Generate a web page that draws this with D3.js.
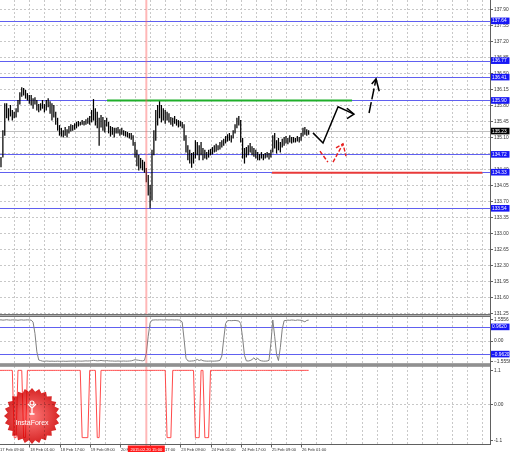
<!DOCTYPE html>
<html><head><meta charset="utf-8">
<script src="https://cdn.jsdelivr.net/npm/d3@7"></script>
<style>body{margin:0;background:#fff}svg{display:block}</style>
</head><body><svg id="c" width="510" height="452"></svg>
<script>
// ---------- DATA ----------
const highs = [
134.62,134.66,135.25,135.84,135.84,135.73,135.80,135.69,135.65,135.73,
135.91,136.08,136.19,136.17,136.13,136.06,136.02,136.02,135.95,135.97,
135.91,135.82,135.84,135.91,135.82,135.91,135.95,135.88,135.84,135.80,
135.65,135.52,135.36,135.30,135.25,135.32,135.27,135.34,135.38,135.36,
135.40,135.43,135.45,135.43,135.47,135.45,135.49,135.52,135.56,135.69,
135.93,135.73,135.65,135.52,135.58,135.54,135.47,135.52,135.43,135.34,
135.32,135.30,135.30,135.32,135.27,135.30,135.25,135.23,135.21,135.19,
135.19,135.14,134.99,134.82,134.71,134.64,134.60,134.56,134.42,134.27,
134.05,134.82,135.25,135.69,135.80,135.91,135.80,135.73,135.69,135.65,
135.62,135.54,135.52,135.56,135.49,135.47,135.45,135.43,135.38,135.14,
134.92,134.82,134.75,134.77,135.03,134.99,134.92,134.99,134.86,134.82,
134.77,134.82,134.84,134.88,134.92,134.95,134.92,134.99,135.03,135.06,
135.12,135.16,135.19,135.14,135.25,135.38,135.52,135.56,135.47,135.08,
134.86,134.88,134.92,134.97,134.90,134.86,134.82,134.77,134.73,134.77,
134.73,134.75,134.77,134.75,134.82,135.14,135.19,135.03,135.08,134.99,
135.06,135.10,135.12,135.08,135.14,135.10,135.10,135.08,135.12,135.10,
135.19,135.30,135.32,135.27,135.25];
const lows = [
134.42,134.45,134.66,135.14,135.52,135.47,135.56,135.47,135.52,135.54,
135.65,135.82,135.99,136.02,135.95,135.91,135.84,135.80,135.73,135.82,
135.69,135.65,135.69,135.73,135.65,135.69,135.76,135.62,135.47,135.54,
135.38,135.25,135.14,135.12,135.10,135.14,135.10,135.19,135.23,135.25,
135.27,135.30,135.34,135.36,135.38,135.36,135.38,135.40,135.38,135.43,
135.47,135.36,135.30,134.92,135.32,135.25,135.21,135.34,135.19,135.12,
135.16,135.10,135.19,135.19,135.14,135.16,135.14,135.12,135.10,135.08,
135.05,134.92,134.66,134.47,134.38,134.42,134.38,134.33,134.12,133.83,
133.55,133.72,134.71,135.03,135.36,135.52,135.43,135.47,135.40,135.47,
135.43,135.38,135.34,135.40,135.36,135.32,135.34,135.30,135.03,134.77,
134.60,134.53,134.44,134.53,134.64,134.71,134.60,134.71,134.60,134.64,
134.62,134.66,134.71,134.73,134.77,134.79,134.82,134.84,134.88,134.92,
134.97,135.01,135.03,134.99,135.08,135.19,135.30,135.36,134.99,134.64,
134.53,134.66,134.71,134.77,134.71,134.68,134.64,134.60,134.60,134.64,
134.60,134.64,134.66,134.62,134.66,134.77,134.86,134.75,134.82,134.77,
134.88,134.92,134.97,134.95,134.99,134.97,134.99,134.99,135.01,134.99,
135.03,135.12,135.16,135.14,135.16];
const lastPrice = 135.23;
const priceTicks = [137.90,137.55,137.20,136.85,136.50,136.15,135.80,135.45,135.10,134.75,
  134.40,134.05,133.70,133.35,133.00,132.65,132.30,131.95,131.60,131.25];
const levelPrices = [137.64,136.77,136.41,135.90,134.72,134.33,133.54];
const greenLevel = [135.90, 57.2, 187];   // price, from bar, to bar
const redLevel = [134.33, 144.6, 256];
const timeLabels = ["17 Feb 09:00","18 Feb 01:00","18 Feb 17:00","19 Feb 09:00","20 Feb 01:00",
  "20 Feb 17:00","23 Feb 09:00","24 Feb 01:00","24 Feb 17:00","25 Feb 09:00","26 Feb 01:00"];
const barsPerLabel = 16;
const markerBar = 78;
const markerLabel = "2015.02.20 15:00";
// forecast sketches (bar index, price)
const blackPath1 = [[166.3,135.19],[171.6,134.97],[179.6,135.76],[188,135.60]];
const blackHead1 = [[184.3,135.73],[188,135.60],[184.3,135.50]];
const blackPath2 = [[196,135.625],[199.7,136.37]];
const blackHead2 = [[197.4,136.26],[199.7,136.37],[201.4,136.10]];
const redPath1 = [[170,134.79],[174.2,134.55]];
const redPath2 = [[176.9,134.55],[182.2,134.95]];
const redHead = [[178.5,134.86],[182.2,134.95],[183.8,134.68]];
// indicator 1
const osc1 = [
1.45,1.46,1.44,1.45,1.47,1.45,1.44,1.46,1.45,1.45,1.43,1.45,1.46,1.44,1.45,1.46,1.45,1.44,
1.30,0.50,-0.80,-1.38,-1.42,
-1.46,-1.47,-1.45,-1.46,-1.47,-1.46,-1.47,-1.47,-1.46,-1.47,
-1.47,-1.46,-1.47,-1.47,-1.46,-1.46,-1.45,-1.46,-1.46,-1.45,
-1.46,-1.46,-1.45,-1.44,-1.45,-1.44,-1.42,-1.40,-1.42,-1.44,
-1.43,-1.41,-1.43,-1.44,-1.42,-1.44,-1.45,-1.45,-1.46,-1.46,
-1.45,-1.46,-1.46,-1.45,-1.46,-1.46,-1.45,-1.44,-1.40,-1.36,
-1.38,-1.40,-1.42,
-1.44,-1.40,-0.90,0.30,1.25,1.44,
1.45,1.46,1.45,1.46,1.46,1.45,1.46,1.46,1.45,1.46,1.46,1.45,1.46,1.45,1.44,
1.30,0.10,-1.25,-1.44,
-1.46,-1.45,-1.44,-1.40,-1.34,-1.42,-1.36,-1.43,-1.45,-1.46,-1.46,-1.45,-1.46,-1.46,-1.45,-1.44,-1.40,
-1.10,0.10,1.20,1.40,
1.41,1.40,1.41,1.42,1.40,1.38,
1.20,0.20,-1.05,-1.44,
-1.45,-1.42,-1.35,-1.22,-1.38,-1.25,-1.40,-1.44,-1.46,-1.46,-1.45,-1.40,
-0.20,1.45,0.30,-1.00,-1.42,-0.50,0.80,1.40,
1.42,1.44,1.43,1.45,1.44,1.42,1.45,1.44,1.43,1.38,1.32,1.42,1.44];
const osc1Ticks = [1.5556, 0, -1.5556];
const osc1Levels = [0.9620, -0.9620];
// indicator 2
const osc2 = [
1,1,1,1,1,1,1,1,-1,-1,1,1,1,-1,-1,1,1,1,1,1,
1,1,1,1,1,1,1,1,1,1,1,1,1,1,1,1,1,1,1,1,
1,1,1,1,-1,-1,-1,-1,1,1,1,1,-1,-1,1,1,1,1,1,1,
1,1,1,1,1,1,1,1,1,1,1,1,1,1,1,1,1,1,1,1,
1,1,1,1,1,1,1,1,1,-1,-1,-1,1,1,1,1,1,1,1,1,
1,1,1,1,-1,-1,-1,1,1,-1,-1,-1,1,1,1,1,1,1,1,1,
1,1,1,1,1,1,1,1,1,1,1,1,1,1,1,1,1,1,1,1,
1,1,1,1,1,1,1,1,1,1,1,1,1,1,1,1,1,1,1,1,
1,1,1,1,1];
const osc2Ticks = [1.1, 0, -1.1];

// ---------- LAYOUT ----------
const plotR = 490;
const svg = d3.select("#c");
const FONT = "Liberation Sans, Arial, sans-serif";
const x = d3.scaleLinear().domain([0, barsPerLabel]).range([-0.9, 29.3]);
const yM = d3.scaleLinear().domain([131.25, 137.90]).range([313, 9]);
const y1 = d3.scaleLinear().domain([-1.5556, 1.5556]).range([362.5, 318.5]);
const y2 = d3.scaleLinear().domain([-1.1, 1.1]).range([441, 367]);
const panels = [[0, 314], [317, 363.5], [366, 444]];

const defs = svg.append("defs");
panels.forEach((p, k) => defs.append("clipPath").attr("id", "cp" + k)
  .append("rect").attr("x", 0).attr("y", p[0]).attr("width", plotR).attr("height", p[1] - p[0]));

const line = (ys) => d3.line().x(d => x(d[0])).y(d => ys(d[1]));

// vertical grid (every half label)
const nBars = highs.length;
const gridBars = d3.range(0, 260, barsPerLabel / 2);
panels.forEach((p, k) => {
  svg.append("g").attr("clip-path", `url(#cp${k})`).selectAll("line").data(gridBars).join("line")
    .attr("x1", d => Math.round(x(d)) + 0.5).attr("x2", d => Math.round(x(d)) + 0.5)
    .attr("y1", p[0]).attr("y2", p[1])
    .attr("stroke", "#c8c8c8").attr("stroke-dasharray", "2,2").attr("stroke-width", 1);
});
// horizontal grid main
const gM = svg.append("g").attr("clip-path", "url(#cp0)");
gM.selectAll("line.hg").data(priceTicks).join("line").attr("class", "hg")
  .attr("x1", 0).attr("x2", plotR).attr("y1", d => Math.round(yM(d)) + 0.5).attr("y2", d => Math.round(yM(d)) + 0.5)
  .attr("stroke", "#c8c8c8").attr("stroke-dasharray", "2,2");
// zero grids in sub panels
[[y1, 0], [y2, 0]].forEach(([s, v]) => svg.append("line").attr("x1", 0).attr("x2", plotR)
  .attr("y1", Math.round(s(v)) + 0.5).attr("y2", Math.round(s(v)) + 0.5)
  .attr("stroke", "#c8c8c8").attr("stroke-dasharray", "2,2"));

// blue levels
gM.selectAll("line.lv").data(levelPrices).join("line").attr("class", "lv")
  .attr("x1", 0).attr("x2", plotR).attr("y1", d => Math.round(yM(d)) + 0.5).attr("y2", d => Math.round(yM(d)) + 0.5)
  .attr("stroke", "#6060f0").attr("stroke-width", 1);
// current price line
gM.append("line").attr("x1", 0).attr("x2", plotR)
  .attr("y1", Math.round(yM(lastPrice)) + 0.5).attr("y2", Math.round(yM(lastPrice)) + 0.5)
  .attr("stroke", "#c0c0c0");

// bars
gM.selectAll("line.bar").data(d3.range(nBars)).join("line").attr("class", "bar")
  .attr("x1", i => x(i)).attr("x2", i => x(i))
  .attr("y1", i => yM(highs[i])).attr("y2", i => yM(lows[i]) + 0.5)
  .attr("stroke", "#000").attr("stroke-width", 1.25);

// green / red levels
gM.append("line").attr("x1", x(greenLevel[1])).attr("x2", x(greenLevel[2]))
  .attr("y1", yM(greenLevel[0])).attr("y2", yM(greenLevel[0]))
  .attr("stroke", "#1fae2a").attr("stroke-width", 2);
gM.append("line").attr("x1", x(redLevel[1])).attr("x2", x(redLevel[2]))
  .attr("y1", yM(redLevel[0]) + 0.5).attr("y2", yM(redLevel[0]) + 0.5)
  .attr("stroke", "#e83a3a").attr("stroke-width", 2);

// sketches
const lm = line(yM);
[blackPath1, blackHead1, blackHead2].forEach(pts =>
  gM.append("path").attr("d", lm(pts)).attr("fill", "none").attr("stroke", "#000").attr("stroke-width", 1.5));
gM.append("path").attr("d", lm(blackPath2)).attr("fill", "none").attr("stroke", "#000")
  .attr("stroke-width", 1.5).attr("stroke-dasharray", "11,3");
[redPath1, redPath2, redHead].forEach(pts =>
  gM.append("path").attr("d", lm(pts)).attr("fill", "none").attr("stroke", "#e82020")
    .attr("stroke-width", 1.4).attr("stroke-dasharray", "4,2"));

// indicator 1
svg.append("g").attr("clip-path", "url(#cp1)").selectAll("line").data(osc1Levels).join("line")
  .attr("x1", 0).attr("x2", plotR).attr("y1", d => Math.round(y1(d)) + 0.5).attr("y2", d => Math.round(y1(d)) + 0.5)
  .attr("stroke", "#6060f0");
svg.append("path").attr("clip-path", "url(#cp1)")
  .attr("d", line(y1)(osc1.map((v, i) => [i, v]))).attr("fill", "none").attr("stroke", "#808080").attr("stroke-width", 1);
// indicator 2
svg.append("path").attr("clip-path", "url(#cp2)")
  .attr("d", line(y2)(osc2.map((v, i) => [i, v]))).attr("fill", "none").attr("stroke", "#ff4a4a").attr("stroke-width", 1);

// logo (multiplied over the indicator so lines show through darker)
const lg = svg.append("g").attr("transform", "translate(32,416)");
const grad = defs.append("radialGradient").attr("id", "lgG");
grad.append("stop").attr("offset", "0%").attr("stop-color", "#ff7a7a");
grad.append("stop").attr("offset", "100%").attr("stop-color", "#d62424");
const spikes = 24, ro = 28, ri = 24.5;
const starPts = d3.range(spikes * 2).map(k => {
  const a = Math.PI * k / spikes, r = k % 2 ? ri : ro;
  return [r * Math.sin(a), -r * Math.cos(a)];
});
lg.append("path").attr("d", "M" + starPts.join("L") + "Z").attr("fill", "url(#lgG)")
  .style("mix-blend-mode", "multiply");
lg.append("circle").attr("cx", 0).attr("cy", -13).attr("r", 2).attr("fill", "none").attr("stroke", "#fff").attr("stroke-width", 1.2);
lg.append("path").attr("d", "M-4,-12 L0,-8 L4,-12 M0,-8 L0,-2 M-2.5,-2 L2.5,-2").attr("fill", "none").attr("stroke", "#fff").attr("stroke-width", 1.3);
lg.append("text").attr("x", 0).attr("y", 9).attr("text-anchor", "middle").attr("fill", "#fff")
  .attr("font-family", FONT).attr("font-size", 7).text("InstaForex");

// marker vertical line
svg.append("line").attr("x1", x(markerBar)).attr("x2", x(markerBar)).attr("y1", 0).attr("y2", 452)
  .attr("stroke", "#ff6060").attr("stroke-opacity", 0.45).attr("stroke-width", 2);

// separators & frame
[314, 363.5].forEach(yy => {
  svg.append("rect").attr("x", 0).attr("y", yy).attr("width", plotR).attr("height", 3).attr("fill", "#b0b0b0");
  svg.append("line").attr("x1", 0).attr("x2", plotR).attr("y1", yy + 0.5).attr("y2", yy + 0.5).attr("stroke", "#707070");
  svg.append("line").attr("x1", 0).attr("x2", plotR).attr("y1", yy + 2.5).attr("y2", yy + 2.5).attr("stroke", "#707070");
});
svg.append("line").attr("x1", 0).attr("x2", plotR + 0.5).attr("y1", 444.5).attr("y2", 444.5).attr("stroke", "#606060");
svg.append("line").attr("x1", plotR + 0.5).attr("x2", plotR + 0.5).attr("y1", 0).attr("y2", 445).attr("stroke", "#606060");

// right axis labels
const axText = (sel) => sel.attr("font-family", FONT).attr("font-size", 4.8).attr("dominant-baseline", "central");
const gA = svg.append("g");
function axisLabels(ticks, scale, fmt, clampTop, clampBot) {
  ticks.forEach(v => {
    let yy = scale(v);
    yy = Math.max(clampTop, Math.min(clampBot, yy));
    gA.append("line").attr("x1", plotR).attr("x2", plotR + 3).attr("y1", Math.round(yy) + 0.5).attr("y2", Math.round(yy) + 0.5).attr("stroke", "#606060");
    gA.append("text").attr("x", plotR + 4).attr("y", yy).attr("fill", "#333").call(axText).text(fmt(v));
  });
}
axisLabels(priceTicks, yM, d3.format(".2f"), 0, 313);
axisLabels(osc1Ticks, y1, v => v === 0 ? "0.00" : d3.format(".4f")(v), 319, 361);
axisLabels(osc2Ticks, y2, v => v === 0 ? "0.00" : String(v), 370, 440);

function box(yy, txt, fill) {
  gA.append("rect").attr("x", plotR + 1).attr("y", yy - 3.3).attr("width", 18.5).attr("height", 6.6).attr("fill", fill);
  gA.append("text").attr("x", plotR + 2).attr("y", yy).attr("fill", "#fff").call(axText).text(txt);
}
levelPrices.forEach(v => box(yM(v), d3.format(".2f")(v), "#1717f5"));
box(yM(lastPrice), d3.format(".2f")(lastPrice), "#000");
osc1Levels.forEach(v => box(y1(v), d3.format(".4f")(v), "#1717f5"));

// time axis
const gT = svg.append("g");
timeLabels.forEach((t, k) => {
  const xx = x(k * barsPerLabel);
  gT.append("line").attr("x1", Math.round(xx) + 0.5).attr("x2", Math.round(xx) + 0.5).attr("y1", 444).attr("y2", 447.5).attr("stroke", "#606060");
  gT.append("text").attr("x", xx + 1).attr("y", 449).attr("fill", "#333").attr("font-family", FONT)
    .attr("font-size", 4.1).attr("dominant-baseline", "central").text(t);
});
const mx = x(markerBar);
gT.append("rect").attr("x", mx - 18.5).attr("y", 445.5).attr("width", 37).attr("height", 6.5).attr("fill", "#ff1a1a");
gT.append("text").attr("x", mx).attr("y", 449).attr("text-anchor", "middle").attr("fill", "#fff")
  .attr("font-family", FONT).attr("font-size", 4.1).attr("dominant-baseline", "central").text(markerLabel);
</script></body></html>
